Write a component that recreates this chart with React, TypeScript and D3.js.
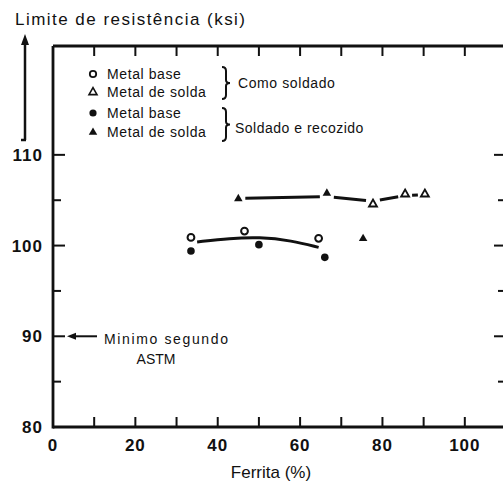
import React from "react";
import * as d3 from "d3";

const W = 503;
const H = 490;

// data
const asWeldedBaseX = [33.5, 46.5, 64.5];
const asWeldedBaseY = [100.9, 101.6, 100.8];
const asWeldedWeldX = [77.7, 85.5, 90.3];
const asWeldedWeldY = [104.6, 105.7, 105.7];
const annealedBaseX = [33.5, 50, 66];
const annealedBaseY = [99.4, 100.1, 98.7];
const annealedWeldX = [45, 66.5, 75.3];
const annealedWeldY = [105.2, 105.8, 100.8];

const weldLineX = [45, 66.5, 77.7, 85.5, 90.3];
const weldLineY = [105.2, 105.4, 104.9, 105.5, 105.6];
const baseCurveX = [35, 43, 50, 58, 64.5];
const baseCurveY = [100.4, 100.8, 100.95, 100.55, 99.8];

const xTickLabels = [0, 20, 40, 60, 80, 100];
const xMinorTicks = [10, 20, 30, 40, 50, 60, 70, 80, 90, 100];
const yTickLabels = [80, 90, 100, 110];
const yMinorTicks = [85, 90, 95, 100, 105, 110];

const x = d3.scaleLinear().domain([0, 110]).range([53, 506]);
const y = d3.scaleLinear().domain([80, 122]).range([427, 46]);

const font = "'Liberation Sans', Arial, Helvetica, sans-serif";

function tri(cx: number, cy: number, s: number) {
  const h = s * 0.87;
  return `M${cx},${cy - h * 0.62}L${cx + s / 2},${cy + h * 0.38}L${cx - s / 2},${cy + h * 0.38}Z`;
}

function brace(xp: number, y0: number, y1: number) {
  const m = (y0 + y1) / 2;
  return `M${xp},${y0} Q${xp + 4},${y0} ${xp + 4},${y0 + 4} L${xp + 4},${m - 3} Q${xp + 4},${m} ${xp + 8},${m} Q${xp + 4},${m} ${xp + 4},${m + 3} L${xp + 4},${y1 - 4} Q${xp + 4},${y1} ${xp},${y1}`;
}

export default function App() {
  const line = d3
    .line<number>()
    .x((_, i) => x(baseCurveX[i]))
    .y((d) => y(d))
    .curve(d3.curveBasis);

  const gap = 7;
  const weldSegs = weldLineX.slice(0, -1).map((xv, i) => {
    const x0 = x(xv), y0 = y(weldLineY[i]);
    const x1 = x(weldLineX[i + 1]), y1 = y(weldLineY[i + 1]);
    const len = Math.hypot(x1 - x0, y1 - y0);
    const ux = (x1 - x0) / len, uy = (y1 - y0) / len;
    return { x0: x0 + ux * gap, y0: y0 + uy * gap, x1: x1 - ux * gap, y1: y1 - uy * gap };
  });

  return (
    <svg width={W} height={H} style={{ position: "absolute", left: 0, top: 0, background: "#fff" }}>
      <rect width={W} height={H} fill="#fff" />
      {/* title */}
      <text x={15} y={25} fontFamily={font} fontSize={17} textLength={230} fill="#111">
        Limite de resistência (ksi)
      </text>
      {/* title arrow */}
      <line x1={25} y1={140} x2={25} y2={42} stroke="#111" strokeWidth={2.5} />
      <path d="M25,34 L21,45 L29,45 Z" fill="#111" />
      <line x1={21} y1={140} x2={26} y2={140} stroke="#111" strokeWidth={2.5} />

      {/* frame */}
      <line x1={x(0)} y1={y(122)} x2={x(0)} y2={y(80) + 1.5} stroke="#111" strokeWidth={2.8} />
      <line x1={x(0)} y1={y(122)} x2={W} y2={y(122)} stroke="#111" strokeWidth={2.8} />
      <line x1={x(0)} y1={y(80)} x2={W} y2={y(80)} stroke="#111" strokeWidth={2.8} />

      {/* x ticks top & bottom */}
      {xMinorTicks.map((t) => (
        <g key={"xt" + t}>
          <line x1={x(t)} x2={x(t)} y1={y(80)} y2={y(80) - 10} stroke="#111" strokeWidth={2} />
          <line x1={x(t)} x2={x(t)} y1={y(122)} y2={y(122) + 10} stroke="#111" strokeWidth={2} />
        </g>
      ))}
      {/* y ticks left & right */}
      {yMinorTicks.map((t) => {
        const major = t % 10 === 0;
        return (
          <g key={"yt" + t}>
            <line x1={x(0)} x2={x(0) + (major ? 12 : 8)} y1={y(t)} y2={y(t)} stroke="#111" strokeWidth={2} />
            <line x1={W} x2={W - (major ? 9 : 5)} y1={y(t)} y2={y(t)} stroke="#111" strokeWidth={2} />
          </g>
        );
      })}

      {/* tick labels */}
      {yTickLabels.map((t) => (
        <text key={"yl" + t} x={43} y={y(t) + 6} textAnchor="end" fontFamily={font} fontWeight="bold" fontSize={17} letterSpacing={1} fill="#111">
          {t}
        </text>
      ))}
      {xTickLabels.map((t) => (
        <text key={"xl" + t} x={x(t)} y={451} textAnchor="middle" fontFamily={font} fontWeight="bold" fontSize={17} letterSpacing={1} fill="#111">
          {t}
        </text>
      ))}
      <text x={271} y={478} textAnchor="middle" fontFamily={font} fontSize={17} fill="#111">
        Ferrita (%)
      </text>

      {/* legend */}
      <circle cx={93} cy={74} r={3.2} fill="#fff" stroke="#111" strokeWidth={1.8} />
      <path d={tri(93, 92, 8)} fill="#fff" stroke="#111" strokeWidth={1.6} />
      <circle cx={93} cy={113} r={3.6} fill="#111" />
      <path d={tri(93, 132, 8.5)} fill="#111" />
      {[
        ["Metal base", 79],
        ["Metal de solda", 97],
        ["Metal base", 118],
        ["Metal de solda", 137],
      ].map(([t, yy], i) => (
        <text key={"lg" + i} x={107} y={yy as number} fontFamily={font} fontSize={14} letterSpacing={0.6} fill="#111">
          {t}
        </text>
      ))}
      <path d={brace(222, 67, 99)} fill="none" stroke="#111" strokeWidth={2} />
      <path d={brace(222, 108, 141)} fill="none" stroke="#111" strokeWidth={2} />
      <text x={238} y={88} fontFamily={font} fontSize={14} letterSpacing={0.6} fill="#111">
        Como soldado
      </text>
      <text x={235} y={133} fontFamily={font} fontSize={14} letterSpacing={0.5} fill="#111">
        Soldado e recozido
      </text>

      {/* ASTM minimum */}
      <line x1={97} y1={y(90)} x2={74} y2={y(90)} stroke="#111" strokeWidth={2} />
      <path d={`M67,${y(90)} L76,${y(90) - 3.5} L76,${y(90) + 3.5} Z`} fill="#111" />
      <text x={104} y={344} fontFamily={font} fontSize={14} textLength={124} fill="#111">
        Minimo segundo
      </text>
      <text x={156} y={364} textAnchor="middle" fontFamily={font} fontSize={14} fill="#111">
        ASTM
      </text>

      {/* trend lines */}
      {weldSegs.map((s, i) => (
        <line key={"ws" + i} x1={s.x0} y1={s.y0} x2={s.x1} y2={s.y1} stroke="#111" strokeWidth={3} />
      ))}
      <path d={line(baseCurveY) || ""} fill="none" stroke="#111" strokeWidth={3} />

      {/* points */}
      {asWeldedBaseX.map((xv, i) => (
        <circle key={"awb" + i} cx={x(xv)} cy={y(asWeldedBaseY[i])} r={3.4} fill="#fff" stroke="#111" strokeWidth={2} />
      ))}
      {annealedBaseX.map((xv, i) => (
        <circle key={"anb" + i} cx={x(xv)} cy={y(annealedBaseY[i])} r={3.8} fill="#111" />
      ))}
      {asWeldedWeldX.map((xv, i) => (
        <path key={"aww" + i} d={tri(x(xv), y(asWeldedWeldY[i]), 8)} fill="#fff" stroke="#111" strokeWidth={1.8} />
      ))}
      {annealedWeldX.map((xv, i) => (
        <path key={"anw" + i} d={tri(x(xv), y(annealedWeldY[i]), 8.5)} fill="#111" />
      ))}
    </svg>
  );
}
